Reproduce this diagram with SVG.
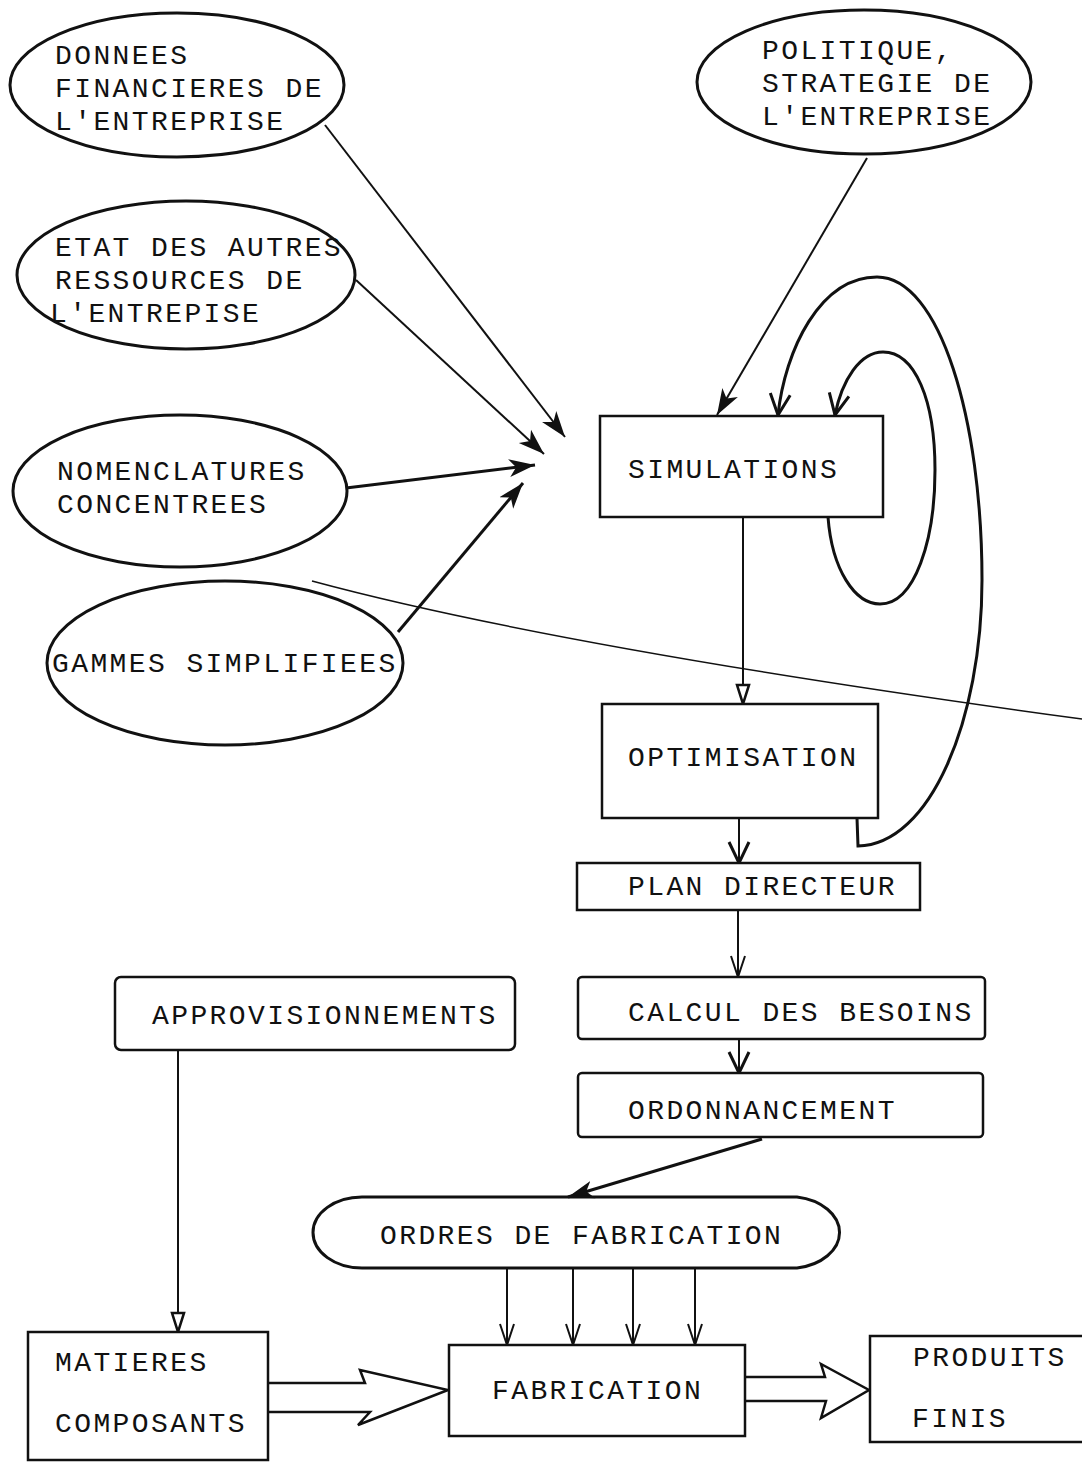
<svg xmlns="http://www.w3.org/2000/svg" width="1082" height="1462" viewBox="0 0 1082 1462">
<style>
text{font-family:"Liberation Mono","Courier New",monospace;font-size:28px;letter-spacing:2.4px;fill:#111}
.sh{fill:none;stroke:#111;stroke-width:3}
.bx{fill:#fff;stroke:#111;stroke-width:2.5}
.ln{fill:none;stroke:#111;stroke-width:2}
.lt{fill:none;stroke:#111;stroke-width:1.5}
.lk{fill:none;stroke:#111;stroke-width:3}
.blk{fill:#fff;stroke:#111;stroke-width:2.5;stroke-linejoin:miter}
</style>
<defs>
<marker id="fill" markerUnits="userSpaceOnUse" markerWidth="28" markerHeight="22" refX="26" refY="11" orient="auto"><path d="M0,2 L26,11 L0,20 L7,11 z" fill="#111"/></marker>
<marker id="vee" markerUnits="userSpaceOnUse" markerWidth="26" markerHeight="24" refX="23" refY="12" orient="auto"><path d="M2,2 L23,12 L2,22" fill="none" stroke="#111" stroke-width="3"/></marker>
<marker id="veet" markerUnits="userSpaceOnUse" markerWidth="26" markerHeight="20" refX="23" refY="10" orient="auto"><path d="M2,3 L23,10 L2,17" fill="none" stroke="#111" stroke-width="2"/></marker>
<marker id="tri" markerUnits="userSpaceOnUse" markerWidth="24" markerHeight="16" refX="21" refY="8" orient="auto"><path d="M2,2 L21,8 L2,14 z" fill="#fff" stroke="#111" stroke-width="2.5"/></marker>
</defs>

<g id="connectors">
<path class="ln" d="M325,125 L565,437" marker-end="url(#fill)"/>
<path class="ln" d="M356,280 L544,454" marker-end="url(#fill)"/>
<path class="lk" d="M346,488 L535,465" marker-end="url(#fill)"/>
<path class="lk" d="M398,632 L523,483" marker-end="url(#fill)"/>
<path class="ln" d="M867,158 L717,415" marker-end="url(#fill)"/>
<path class="lk" d="M857,818 L858,846 C930,845 982,720 982,580 C982,420 940,277 877,277 C820,277 785,350 778,415" marker-end="url(#vee)"/>
<path class="lk" d="M828,517 C832,570 855,604 880,604 C915,604 935,540 935,470 C935,400 915,352 883,352 C860,352 842,380 835,415" marker-end="url(#vee)"/>
<path class="lt" d="M312,581 Q560,648 1082,719"/>
<path class="ln" d="M743,517 L743,704" marker-end="url(#tri)"/>
<path class="ln" d="M739,818 L739,863" marker-end="url(#vee)"/>
<path class="ln" d="M738,910 L738,977" marker-end="url(#veet)"/>
<path class="ln" d="M739,1039 L739,1073" marker-end="url(#vee)"/>
<path class="lk" d="M762,1139 L568,1197" marker-end="url(#fill)"/>
<path class="ln" d="M178,1050 L178,1332" marker-end="url(#tri)"/>
<path class="ln" d="M507,1268 L507,1345" marker-end="url(#veet)"/>
<path class="ln" d="M573,1268 L573,1345" marker-end="url(#veet)"/>
<path class="ln" d="M633,1268 L633,1345" marker-end="url(#veet)"/>
<path class="ln" d="M695,1268 L695,1345" marker-end="url(#veet)"/>
<path class="blk" d="M268,1383 L365,1383 L360,1370 L448,1390 L358,1425 L370,1412 L268,1412"/>
<path class="blk" d="M745,1377 L825,1377 L821,1364 L869,1390 L821,1418 L826,1401 L745,1401"/>
</g>

<g id="donnees"><ellipse class="sh" cx="177" cy="85" rx="167" ry="72"/><text x="55" y="64">DONNEES</text><text x="55" y="97">FINANCIERES DE</text><text x="55" y="130">L'ENTREPRISE</text></g>
<g id="politique"><ellipse class="sh" cx="864" cy="82" rx="167" ry="72"/><text x="762" y="59">POLITIQUE,</text><text x="762" y="92">STRATEGIE DE</text><text x="762" y="125">L'ENTREPRISE</text></g>
<g id="etat"><ellipse class="sh" cx="186" cy="275" rx="169" ry="74"/><text x="55" y="256">ETAT DES AUTRES</text><text x="55" y="289">RESSOURCES DE</text><text x="50" y="322">L'ENTREPISE</text></g>
<g id="nomenclatures"><ellipse class="sh" cx="180" cy="491" rx="167" ry="76"/><text x="57" y="480">NOMENCLATURES</text><text x="57" y="513">CONCENTREES</text></g>
<g id="gammes"><ellipse class="sh" cx="225" cy="663" rx="178" ry="82"/><text x="52" y="672">GAMMES SIMPLIFIEES</text></g>

<g id="simulations"><rect class="bx" x="600" y="416" width="283" height="101"/><text x="628" y="478">SIMULATIONS</text></g>
<g id="optimisation"><rect class="bx" x="602" y="704" width="276" height="114"/><text x="628" y="766">OPTIMISATION</text></g>
<g id="plan"><rect class="bx" x="577" y="863" width="343" height="47"/><text x="628" y="895">PLAN DIRECTEUR</text></g>
<g id="calcul"><rect class="bx" x="578" y="977" width="407" height="62" rx="4"/><text x="628" y="1021">CALCUL DES BESOINS</text></g>
<g id="ordonnancement"><rect class="bx" x="578" y="1073" width="405" height="64" rx="4"/><text x="628" y="1119">ORDONNANCEMENT</text></g>
<g id="approvisionnements"><rect class="bx" x="115" y="977" width="400" height="73" rx="6"/><text x="152" y="1024">APPROVISIONNEMENTS</text></g>
<g id="ordres"><path class="sh" d="M362,1197 L797,1197 A51,36 0 0 1 797,1268 L362,1268 A49,35.5 0 0 1 362,1197 Z" fill="#fff"/><text x="380" y="1244">ORDRES DE FABRICATION</text></g>
<g id="fabrication"><rect class="bx" x="449" y="1345" width="296" height="91"/><text x="492" y="1399">FABRICATION</text></g>
<g id="matieres"><rect class="bx" x="28" y="1332" width="240" height="128"/><text x="55" y="1371">MATIERES</text><text x="55" y="1432">COMPOSANTS</text></g>
<g id="produits"><rect class="bx" x="870" y="1336" width="220" height="106"/><text x="913" y="1366">PRODUITS</text><text x="912" y="1427">FINIS</text></g>
</svg>
